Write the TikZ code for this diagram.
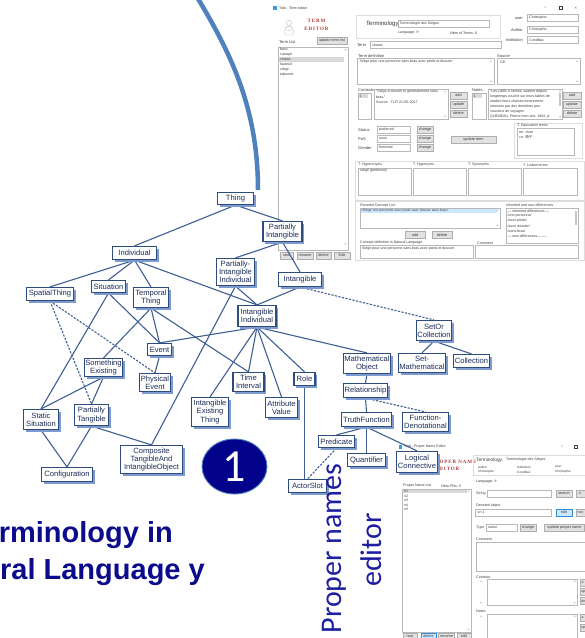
\documentclass[tikz,border=0pt]{standalone}
\usepackage{fontspec}
\setmainfont{Liberation Sans}
\newfontfamily\carl{Carlito}
\newfontfamily\cjk{Noto Sans CJK SC}
\newfontfamily\logofont[LetterSpace=18]{Liberation Serif}
\usetikzlibrary{shadows,shapes.geometric}
\pgfdeclarelayer{uilayer}
\pgfdeclarelayer{edgelayer}
\pgfsetlayers{uilayer,edgelayer,main}
\definecolor{treeB}{HTML}{2E4B7D}
\definecolor{treeT}{HTML}{1C2C58}
\definecolor{shadB}{HTML}{7E9BCF}
\definecolor{edgeB}{HTML}{3F5F94}
\definecolor{arcC}{HTML}{4F81BD}
\definecolor{navyT}{HTML}{0B0B8C}
\definecolor{circF}{HTML}{02028A}
\definecolor{pnT}{HTML}{1E1EA0}
\definecolor{uiT}{HTML}{3C3C3C}
\definecolor{boxB}{HTML}{B8B8B8}
\definecolor{btnF}{HTML}{E1E1E1}
\definecolor{btnB}{HTML}{ADADAD}
\definecolor{frmB}{HTML}{DDDDDD}
\definecolor{selF}{HTML}{CCE8FF}
\definecolor{selB}{HTML}{2F8AD8}
\definecolor{selG}{HTML}{D9D9D9}
\definecolor{logoR}{HTML}{B03A3A}
\definecolor{icoB}{HTML}{3C9BE0}
\newcommand\myup[2]{\fill[gray!55] (#1-1.1,#2+0.6) -- (#1+1.1,#2+0.6) -- (#1,#2-0.6) -- cycle;}
\newcommand\mydn[2]{\fill[gray!55] (#1-1.1,#2-0.6) -- (#1+1.1,#2-0.6) -- (#1,#2+0.6) -- cycle;}
\tikzset{
  ui/.style={font=\fontsize{4}{4.7}\selectfont, text=uiT, inner sep=0pt, anchor=west},
  uis/.style={ui, font=\fontsize{3.6}{4.2}\selectfont},
  uibox/.style={draw=boxB, fill=white, line width=0.4pt},
  uifrm/.style={draw=frmB, line width=0.5pt},
  btn/.style={draw=btnB, fill=btnF, line width=0.4pt, font=\fontsize{3.8}{4}\selectfont, text=uiT, inner sep=0pt, minimum height=7pt},
  btnb/.style={btn, draw=selB, fill=selF},
  logo/.style={font=\logofont\bfseries\fontsize{5}{5}\selectfont, text=logoR, inner sep=0pt},
  tn/.style={draw=treeB, line width=1.2pt, fill=white, font=\fontsize{7.6}{8.2}\selectfont, text=treeT, align=center, inner sep=0.3pt, drop shadow={shadow xshift=2pt, shadow yshift=-2pt, fill=shadB, opacity=1}},
  te/.style={draw=edgeB, line width=1.1pt},
  ted/.style={te, dash pattern=on 2.2pt off 1.4pt}
}
\begin{document}
\begin{tikzpicture}[x=1pt,y=-1pt]
\useasboundingbox (0,0) rectangle (585,638);

\begin{pgfonlayer}{uilayer}
\fill[white] (0,0) rectangle (585,638);
% ================= Term editor window =================
\fill[icoB] (273,6) rectangle (277,10);
\node[uis] (te0) at (279,8) {Tedi - Term editor};
\node[ui] (te1) at (544,8) {–};
\draw[uiT,line width=0.3pt] (559,6.5) rectangle (562,9.5);
\node[ui] (te2) at (574.5,8) {×};
% logo
\draw[gray!60,line width=0.35pt] (289,23) circle (2.6);
\draw[gray!60,line width=0.35pt] (285,35) .. controls (284,29) and (286,26.5) .. (289,26) .. controls (292,26.5) and (294,29) .. (293,35) -- cycle;
\draw[gray!60,line width=0.3pt] (286.5,30) -- (291.5,31);
\node[logo] (te3) at (316.5,21) {TERM};
\node[logo] (te4) at (316.5,29) {EDITOR};
\node[ui] (te5) at (279,42) {Term List};
\node[btn,minimum width=30pt] (te6) at (332,41) {update term list};
\draw[uibox] (278,47) rectangle (348,250);
\fill[selG] (278.5,57.3) rectangle (343.5,61.7);
\node[uis] (li1) at (280,49.5) {banc};
\node[uis] (li2) at (280,54.5) {canapé};
\node[uis] (li3) at (280,59.5) {chaise};
\node[uis] (li4) at (280,64.5) {fauteuil};
\node[uis] (li5) at (280,69.5) {siège};
\node[uis] (li6) at (280,74.5) {tabouret};
\myup{345.5}{49.5}\mydn{345.5}{244}
\node[btn,minimum width=13pt] (tb1) at (286.5,255.5) {new};
\node[btn,minimum width=16pt] (tb2) at (305,255.5) {rename};
\node[btn,minimum width=15pt] (tb3) at (323.5,255.5) {delete};
\node[btn,minimum width=16pt] (tb4) at (342,255.5) {Edit};
% header frame
\draw[uifrm] (356,15) rectangle (500,38);
\node[ui,font=\fontsize{6}{6}\selectfont,text=black!80] (te7) at (366,24) {Terminology};
\draw[uibox] (398,20.5) rectangle (489,27.5);
\node[uis] (te8) at (399.5,24) {Terminologie des Sièges};
\node[uis] (te9) at (398,33) {Language: fr};
\node[uis] (te10) at (450,33) {Nbre of Terms: 6};
\node[ui,anchor=east] (te11) at (523,18) {user};
\draw[uibox] (527,14.5) rectangle (578,21.5);
\node[uis] (te12) at (529,18) {Christophe};
\node[ui,anchor=east] (te13) at (523,30) {Author};
\draw[uibox] (527,26.5) rectangle (578,33.5);
\node[uis] (te14) at (529,30) {Christophe};
\node[ui,anchor=east] (te15) at (523,40) {Institution};
\draw[uibox] (527,36.5) rectangle (578,43.5);
\node[uis] (te16) at (529,40) {Condillac};
\node[ui] (te17) at (357,45) {Term};
\draw[uibox] (370,41.5) rectangle (501,48);
\node[uis] (te18) at (372,45) {chaise};
\node[ui] (te19) at (358,56) {Term definition};
\draw[uibox] (357,58.5) rectangle (494,84);
\node[uis] (te20) at (360,62) {Siège pour une personne sans bras avec pieds et dossier.};
\myup{491}{61}\mydn{491}{81.5}
\node[ui] (te21) at (497,56) {Source};
\draw[uibox] (497,58.5) rectangle (580,84);
\node[uis] (te22) at (500,62) {GE};
\myup{577}{61}\mydn{577}{81.5}
% contexts
\node[ui] (te23) at (358,90) {Contexts};
\draw[uibox] (358,93.5) rectangle (371.5,119);
\fill[selG] (358.5,94) rectangle (367.5,98.2);
\node[uis] (te24) at (359.5,96.1) {1};
\draw[uibox] (374,89) rectangle (448,119);
\node[uis] (te25) at (376,92) {"Siège à dossier et généralement sans};
\node[uis] (te26) at (376,97) {bras."};
\node[uis] (te27) at (376,102) {Source : TLFi 21-05-2017};
\myup{445}{91.5}\mydn{445}{116.5}
\node[btn,minimum width=17pt] (cb1) at (458.5,95.5) {add};
\node[btn,minimum width=17pt] (cb2) at (458.5,104.5) {update};
\node[btn,minimum width=17pt] (cb3) at (458.5,113.5) {delete};
\node[ui] (te28) at (472,90) {Notes};
\draw[uibox] (472,93.5) rectangle (486.5,119);
\fill[selG] (472.5,94) rectangle (482,98.2);
\node[uis] (te29) at (473.5,96.1) {1};
\draw[uibox] (488,89) rectangle (562,119);
\fill[gray!45] (558.5,93) rectangle (561.3,106);
\myup{560}{91}\mydn{560}{117}
\node[uis] (nt1) at (490,91.5) {"Les cafés à l'entour avaient depuis};
\node[uis] (nt2) at (490,96.5) {longtemps couché sur leurs tables de};
\node[uis] (nt3) at (490,101.5) {marbre leurs chaises tendrement};
\node[uis] (nt4) at (490,106.5) {retenues par des dernières peu};
\node[uis] (nt5) at (490,111.5) {soucieux de voyages.};
\node[uis] (nt6) at (490,116.5) {QUENEAU, Pierrot mon ami, 1942, p.};
\node[btn,minimum width=18pt] (nb1) at (572,95.5) {add};
\node[btn,minimum width=18pt] (nb2) at (572,104.5) {update};
\node[btn,minimum width=18pt] (nb3) at (572,113.5) {delete};
% status
\node[ui] (te30) at (358,130) {Status};
\draw[uibox] (377,126) rectangle (410,133);
\node[uis] (te31) at (379,129.5) {preferred};
\node[btn,minimum width=16pt] (sb1) at (425,129.5) {change};
\node[ui] (te32) at (358,139) {PoS};
\draw[uibox] (377,135) rectangle (410,142);
\node[uis] (te33) at (379,138.5) {noun};
\node[btn,minimum width=16pt] (sb2) at (425,138.5) {change};
\node[ui] (te34) at (358,148) {Gender};
\draw[uibox] (377,144) rectangle (410,151);
\node[uis] (te35) at (379,147.5) {feminine};
\node[btn,minimum width=16pt] (sb3) at (425,147.5) {change};
\node[btn,minimum width=45pt] (sb4) at (473.5,139.5) {update term};
\draw[uifrm] (514,123) rectangle (582,158);
\node[uis] (te36) at (517,126) {T. Equivalent terms};
\draw[uibox] (517,128.5) rectangle (574,155);
\node[uis] (te37) at (519,132) {en: chair};
\node[uis] (te38) at (519,137.5) {cn: {\cjk 椅子}};
% hyperonyms frame
\draw[uifrm] (355,161) rectangle (584.5,200);
\node[uis] (hy1) at (358,165) {T. Hyperonyms};
\node[uis] (hy2) at (413,165) {T. Hyponyms};
\node[uis] (hy3) at (468,165) {T. Synonyms};
\node[uis] (hy4) at (523,165) {T. Linked terms};
\draw[uibox] (358,168) rectangle (411,195);
\draw[uibox] (413,168) rectangle (466,195);
\draw[uibox] (468,168) rectangle (521,195);
\draw[uibox] (523,168) rectangle (577,195);
\node[uis] (hy5) at (360,171) {siège (preferred)};
% denoted concept frame
\draw[uifrm] (355,201) rectangle (584.5,260);
\node[uis] (dc1) at (360,205.5) {Denoted Concept List};
\draw[uibox] (360,208) rectangle (500,228);
\fill[selF] (360.5,208.5) rectangle (497,213);
\node[uis,font=\fontsize{3.4}{4}\selectfont] (dc2) at (361,210.8) {<Siège une personne avec pieds avec dossier sans bras>};
\myup{497.5}{210}\mydn{497.5}{225.5}
\node[btn,minimum width=20pt] (db1) at (415,235) {add};
\node[btn,minimum width=20pt] (db2) at (442,235) {delete};
\node[uis] (dc3) at (360,242.8) {Concept definition in Natural Language};
\draw[uibox] (360,245.5) rectangle (473,258);
\node[uis] (dc4) at (362,248.5) {Siège pour une personne sans bras avec pieds et dossier.};
\node[uis] (dc5) at (506,205.5) {inherited and own differences};
\draw[uibox] (506,208) rectangle (578,243);
\fill[gray!45] (574.5,210.5) rectangle (577.3,225);
\node[uis] (df1) at (507.5,211) {--- inherited differences ---};
\node[uis] (df2) at (507.5,216) {/une personne/};
\node[uis] (df3) at (507.5,221) {/avec pieds/};
\node[uis] (df4) at (507.5,226) {/avec dossier/};
\node[uis] (df5) at (507.5,231) {/sans bras/};
\node[uis] (df6) at (507.5,236) {--- own differences -------};
\node[uis] (dc6) at (477,242.8) {Comment};
\draw[uibox] (475,245.5) rectangle (578,258);

% ================= Proper name editor window =================
\fill[icoB] (399,445) rectangle (402,449);
\node[uis] (pe0) at (404,447) {Tedi - Proper Name Editor};
\node[ui] (pe1) at (561,447) {–};
\draw[uiT,line width=0.3pt] (574.5,445.5) rectangle (577.5,448.5);
\node[logo,anchor=west] (pe2) at (431,462) {PROPER NAME};
\node[logo,anchor=west] (pe3) at (435,468.5) {EDITOR};
\draw[uifrm] (473,455) rectangle (590,475);
\node[ui,font=\fontsize{4.8}{5}\selectfont] (pe4) at (476,460) {Terminology:};
\node[uis] (pe5) at (506,460) {Terminologie des Sièges};
\node[uis,font=\fontsize{3.2}{3.6}\selectfont] (pe6) at (478,467) {author};
\node[uis,font=\fontsize{3.2}{3.6}\selectfont] (pe7) at (478,472) {Christophe};
\node[uis,font=\fontsize{3.2}{3.6}\selectfont] (pe8) at (517,467) {Institution};
\node[uis,font=\fontsize{3.2}{3.6}\selectfont] (pe9) at (517,472) {Condillac};
\node[uis,font=\fontsize{3.2}{3.6}\selectfont] (pe10) at (555,467) {user};
\node[uis,font=\fontsize{3.2}{3.6}\selectfont] (pe11) at (555,472) {Christophe};
\node[uis] (pe12) at (476,482) {Language: fr};
\node[uis] (pe13) at (476,493.5) {String};
\draw[uibox] (487,490) rectangle (551,497);
\node[btn,minimum width=16pt] (pb1) at (564,493.5) {search};
\draw[btn] (576,490) rectangle (592,497);
\node[uis] (pb2) at (578.5,493.5) {cl};
\node[uis] (pe14) at (476,506) {Denoted object};
\draw[uibox] (475.5,509) rectangle (551,516);
\node[uis] (pe15) at (477.5,512.5) {sn 1};
\node[btnb,minimum width=16pt] (pb3) at (564,512.5) {edit};
\draw[btn] (576,509) rectangle (592,516);
\node[uis] (pb4) at (577.5,512.5) {nex};
\node[uis] (pe16) at (476,527.5) {Type};
\draw[uibox] (486,524) rectangle (517,531);
\node[uis] (pe17) at (488,527.5) {name};
\node[btn,minimum width=16pt] (pb5) at (528,527.5) {change};
\node[btn,minimum width=40pt] (pb6) at (564.5,527.5) {update proper name};
\node[uis] (pe18) at (476,539) {Comment};
\draw[uibox] (476,542) rectangle (590,571);
\node[uis] (pe19) at (476,577) {Contexts};
\draw[uibox] (487,579) rectangle (577,605);
\myup{481}{581}\mydn{481}{603}
\myup{574.5}{581}\mydn{574.5}{603}
\draw[btn] (580,579) rectangle (594,586);
\node[uis] (pb7) at (581.5,582.5) {a};
\draw[btn] (580,588.5) rectangle (594,595.5);
\node[uis] (pb8) at (580.8,592) {up};
\draw[btn] (580,597.5) rectangle (594,604.5);
\node[uis] (pb9) at (580.8,601) {de};
\node[uis] (pe20) at (476,611) {Notes};
\draw[uibox] (487,614) rectangle (577,645);
\myup{481}{616}
\myup{574.5}{616}
\draw[btn] (580,614.5) rectangle (594,621.5);
\node[uis] (pb10) at (581.5,618) {a};
\draw[btn] (580,624) rectangle (594,631);
\node[uis] (pb11) at (580.8,627.5) {up};
\node[uis] (pe21) at (403,486) {Proper Name List};
\node[uis] (pe22) at (441,486) {Nbre PNs: 5};
\draw[uibox] (402,489) rectangle (471,632);
\fill[selG] (402.5,489.5) rectangle (467,493.3);
\node[uis] (pn01) at (404,491.4) {n1};
\node[uis] (pn02) at (404,495.9) {n2};
\node[uis] (pn03) at (404,500.4) {n3};
\node[uis] (pn04) at (404,504.9) {n4};
\node[uis] (pn05) at (404,509.4) {n5};
\myup{468.5}{491.5}\mydn{468.5}{629.5}
\node[btn,minimum width=14pt] (pb12) at (410,636.5) {new};
\node[btnb,minimum width=15pt] (pb13) at (428.5,636.5) {delete};
\node[btn,minimum width=16pt] (pb14) at (446.5,636.5) {rename};
\node[btn,minimum width=14pt] (pb15) at (464,636.5) {edit};
\end{pgfonlayer}

% ================= Blue arc =================
\coordinate (arcS) at (197,-3);
\coordinate (arcE) at (258,190);
\draw[arcC, line width=4.5pt] (arcS) .. controls (232,55) and (258,110) .. (arcE);

% ================= Ontology tree =================
\node[tn,minimum width=36pt,minimum height=12pt] (thing) at (235.5,198.5) {Thing};
\node[tn,minimum width=39pt,minimum height=20pt] (pint) at (282.5,231.5) {Partially\\Intangible};
\node[tn,minimum width=44pt,minimum height=13pt] (indiv) at (134.5,253) {Individual};
\node[tn,minimum width=38pt,minimum height=27pt] (pii) at (235.5,272) {Partially-\\Intangible\\Individual};
\node[tn,minimum width=43pt,minimum height=14pt] (intg) at (300,279.5) {Intangible};
\node[tn,minimum width=47pt,minimum height=13pt] (spat) at (50,294) {SpatialThing};
\node[tn,minimum width=34pt,minimum height=12pt] (situ) at (108.5,286.5) {Situation};
\node[tn,minimum width=35pt,minimum height=20pt] (temp) at (151,297.5) {Temporal\\Thing};
\node[tn,minimum width=38pt,minimum height=21pt] (ii) at (257,316) {Intangible\\Individual};
\node[tn,minimum width=24pt,minimum height=12pt] (event) at (159.5,349.5) {Event};
\node[tn,minimum width=38pt,minimum height=18pt] (sexist) at (103.5,367.5) {Something\\Existing};
\node[tn,minimum width=31pt,minimum height=18pt] (pevent) at (155,382.5) {Physical\\Event};
\node[tn,minimum width=31pt,minimum height=19pt] (tint) at (248.5,382) {Time\\Interval};
\node[tn,minimum width=37pt,minimum height=29pt] (iet) at (210,412) {Intangible\\Existing\\Thing};
\node[tn,minimum width=32pt,minimum height=20pt] (attr) at (281.5,407.5) {Attribute\\Value};
\node[tn,minimum width=21pt,minimum height=13pt] (role) at (304.5,379) {Role};
\node[tn,minimum width=47pt,minimum height=20pt] (math) at (367,363.5) {Mathematical\\Object};
\node[tn,minimum width=35pt,minimum height=20pt] (setor) at (434,330.5) {SetOr\\Collection};
\node[tn,minimum width=47pt,minimum height=19pt] (setm) at (422,363) {Set-\\Mathematical};
\node[tn,minimum width=36pt,minimum height=13pt] (coll) at (471.5,361) {Collection};
\node[tn,minimum width=44pt,minimum height=14pt] (rel) at (365.5,390.5) {Relationship};
\node[tn,minimum width=50pt,minimum height=14pt] (truth) at (366.5,419.5) {TruthFunction};
\node[tn,minimum width=46pt,minimum height=19pt] (fden) at (425.5,422) {Function-\\Denotational};
\node[tn,minimum width=36pt,minimum height=12pt] (pred) at (336.5,441.5) {Predicate};
\node[tn,minimum width=38pt,minimum height=13pt] (quant) at (366.5,460) {Quantifier};
\node[tn,minimum width=41pt,minimum height=21pt] (logc) at (417,462) {Logical\\Connective};
\node[tn,minimum width=38pt,minimum height=13pt] (actor) at (307.5,486) {ActorSlot};
\node[tn,minimum width=35pt,minimum height=20pt] (stat) at (41,419.5) {Static\\Situation};
\node[tn,minimum width=34pt,minimum height=21pt] (ptang) at (91.5,415) {Partially\\Tangible};
\node[tn,minimum width=62pt,minimum height=28pt] (comp) at (151.5,459.5) {Composite\\TangibleAnd\\IntangibleObject};
\node[tn,minimum width=51pt,minimum height=14pt] (config) at (67,474.5) {Configuration};

\begin{pgfonlayer}{edgelayer}
\draw[te] (thing.south) -- (indiv.north);
\draw[te] (thing.south) -- (pint.north);
\draw[te] (pint.south) -- (pii.north);
\draw[te] (pint.south) -- (intg.north);
\draw[te] (indiv.south) -- (spat.north);
\draw[te] (indiv.south) -- (situ.north);
\draw[te] (indiv.south) -- (temp.north);
\draw[te] (indiv.south) -- (ii.north);
\draw[te] (pii.south) -- (ii.north);
\draw[te] (pii.south) -- (comp.north);
\draw[te] (intg.south) -- (ii.north);
\draw[ted] (intg.south) -- (setor.north);
\draw[ted] (spat.south) -- (pevent.north);
\draw[ted] (spat.south) -- (ptang.north);
\draw[te] (situ.south) -- (stat.north);
\draw[te] (situ.south) -- (event.north);
\draw[te] (temp.south) -- (event.north);
\draw[te] (temp.south) -- (sexist.north);
\draw[te] (temp.south) -- (tint.north);
\draw[te] (ii.south) -- (event.north);
\draw[te] (ii.south) -- (iet.north);
\draw[te] (ii.south) -- (tint.north);
\draw[te] (ii.south) -- (attr.north);
\draw[te] (ii.south) -- (role.north);
\draw[te] (ii.south) -- (math.north);
\draw[te] (event.south) -- (pevent.north);
\draw[te] (sexist.south) -- (stat.north);
\draw[te] (sexist.south) -- (ptang.north);
\draw[te] (ptang.south) -- (config.north);
\draw[te] (ptang.south) -- (comp.north);
\draw[te] (stat.south) -- (config.north);
\draw[te] (setor.south) -- (setm.north);
\draw[te] (setor.south) -- (coll.north);
\draw[te] (math.south) -- (rel.north);
\draw[te] (rel.south) -- (truth.north);
\draw[ted] (rel.south) -- (fden.north);
\draw[te] (truth.south) -- (pred.north);
\draw[te] (truth.south) -- (quant.north);
\draw[te] (truth.south) -- (logc.north);
\draw[te] (role.south) -- (role.south |- actor.north);
\draw[ted] (pred.south) -- (actor.north);
\end{pgfonlayer}

% ================= Circle and texts =================
\node[ellipse, fill=circF, draw=arcC, line width=0.9pt, minimum width=65pt, minimum height=55pt, inner sep=0pt, text=white, font=\carl\fontsize{46}{46}\selectfont] (one) at (234.5,466.5) {1};
\node[font=\bfseries\fontsize{29}{29}\selectfont, text=navyT, anchor=base east, inner sep=0pt] (tx1) at (173,542) {rminology in};
\node[font=\bfseries\fontsize{29}{29}\selectfont, text=navyT, anchor=base east, inner sep=0pt] (tx2) at (205,579) {ral Language y};
\node[rotate=90, anchor=base, font=\carl\fontsize{30}{30}\selectfont, text=pnT, inner sep=0pt] (pn1) at (341.5,548.5) {Proper names};
\node[rotate=90, anchor=base, font=\carl\fontsize{30}{30}\selectfont, text=pnT, inner sep=0pt] (pn2) at (381.5,550) {editor};
\end{tikzpicture}
\end{document}
